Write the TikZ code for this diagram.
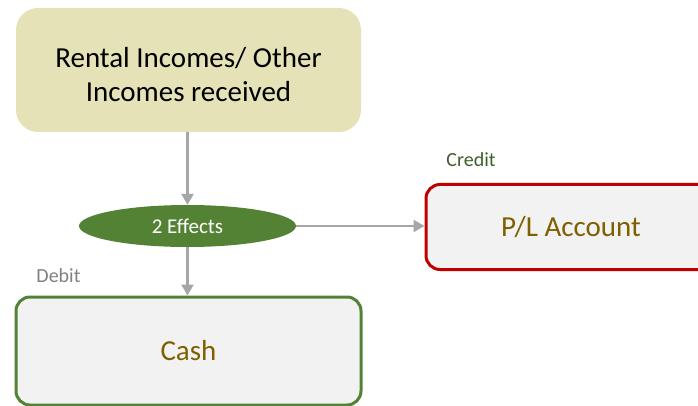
\documentclass[tikz,border=0pt]{standalone}
\usepackage{fontspec}
\setmainfont{Carlito}
\usetikzlibrary{shapes.geometric,arrows.meta}
\definecolor{khaki}{HTML}{E5E2B8}
\definecolor{effgreen}{HTML}{548235}
\definecolor{boxfill}{HTML}{F2F2F2}
\definecolor{acred}{HTML}{C00000}
\definecolor{brownt}{HTML}{7F6000}
\definecolor{arrowgray}{HTML}{A6A6A6}
\definecolor{creditgreen}{HTML}{3B6127}
\definecolor{debitgray}{HTML}{808080}
\tikzset{
  acctbox/.style={draw, line width=3pt, fill=boxfill, rounded corners=14pt, text=brownt, font=\fontsize{29}{34}\selectfont, inner sep=0pt},
  conn/.style={draw=arrowgray, line width=2.4pt, -{Triangle[length=11pt,width=12pt]}},
  lbl/.style={font=\fontsize{20}{24}\selectfont, inner sep=0pt}
}
\begin{document}
\begin{tikzpicture}[x=1pt,y=-1pt]
\useasboundingbox (0,0) rectangle (698,406);
\node[fill=khaki, rounded corners=22pt, minimum width=345pt, minimum height=124pt, inner sep=0pt] (src) at (188.5,70) {};
\node[align=center, inner sep=0pt, font=\fontsize{29}{34}\selectfont] (srct) at (188.5,75) {Rental Incomes/ Other\\Incomes received};
\node[ellipse, fill=effgreen, minimum width=217pt, minimum height=42pt, inner sep=0pt, text=white,
  font=\fontsize{21}{24}\selectfont] (eff) at (187.5,226) {2 Effects};
\node[acctbox, draw=effgreen, minimum width=345pt, minimum height=108pt] (cash) at (188.5,351) {Cash};
\node[acctbox, draw=acred, minimum width=290pt, minimum height=85pt] (pl) at (571,227) {P/L Account};
\node[lbl, text=creditgreen] (cr) at (471,160) {Credit};
\node[lbl, text=debitgray] (db) at (58.5,276) {Debit};
\draw[conn] (src.south -| eff.north) -- (eff.north);
\draw[conn] (eff.south) -- (cash.north -| eff.south);
\draw[conn] (eff.east) -- (pl.west |- eff.east);
\end{tikzpicture}
\end{document}
